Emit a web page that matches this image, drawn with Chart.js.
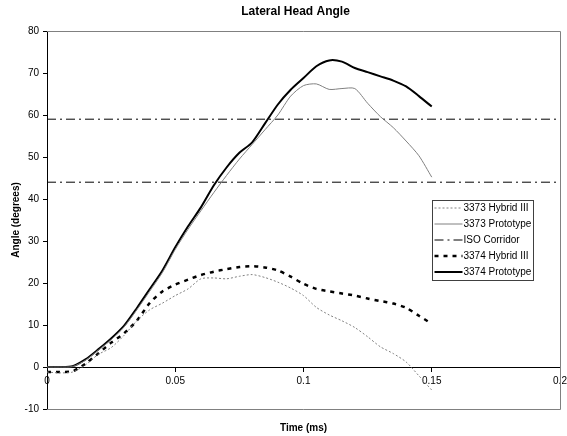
<!DOCTYPE html>
<html>
<head>
<meta charset="utf-8">
<script src="https://cdn.jsdelivr.net/npm/chart.js@4.4.0/dist/chart.umd.min.js"></script>
<style>
  html, body { margin: 0; padding: 0; background: #fff; }
  canvas { display: block; }
</style>
</head>
<body>
<canvas id="chart" width="567" height="436"></canvas>
<script>
// time axis (as labelled on the chart)
const timeMs = [0, 0.005, 0.01, 0.015, 0.02, 0.025, 0.03, 0.035, 0.04, 0.045,
  0.05, 0.055, 0.06, 0.065, 0.07, 0.075, 0.08, 0.085, 0.09, 0.095,
  0.1, 0.105, 0.11, 0.115, 0.12, 0.125, 0.13, 0.135, 0.14, 0.145, 0.15];

const hybrid3373 = [-1.2, -1.4, -1.2, 0.5, 3, 4.6, 7.5, 11, 13.6, 15.2,
  17, 18.6, 21, 21.2, 21, 21.6, 22, 21.3, 20.2, 18.8,
  17, 14.2, 12.4, 11, 9.4, 7.2, 4.8, 3.2, 1.2, -2.1, -5.5];

const proto3373 = [0, 0, 0.1, 1.6, 4, 6.5, 9.5, 13.6, 18, 22.5,
  28, 32.8, 37.2, 41.5, 45.6, 49.5, 53, 56.5, 60, 64.5,
  67, 67.4, 66.1, 66.3, 66.3, 62.8, 59.6, 57, 53.8, 50.3, 45.2];

const hybrid3374 = [-1.2, -1.2, -1, 0.8, 3.2, 5.8, 8, 11, 15.2, 18,
  19.6, 20.8, 21.9, 22.7, 23.3, 23.8, 24, 23.7, 23, 21.5,
  19.8, 18.6, 18, 17.5, 17, 16.3, 15.7, 15.1, 14.1, 12.2, 10.3];

const proto3374 = [0, 0, 0.2, 1.8, 4.2, 6.8, 9.8, 14, 18.5, 23,
  28.5, 33.5, 38, 43.2, 47.5, 51, 53.5, 58, 62.5, 66,
  68.8, 71.6, 73, 72.7, 71.2, 70.2, 69.2, 68.2, 66.8, 64.5, 62];

// ISO corridor limits and the time span they cover
const isoLimits = [59, 44];
const isoSpan = [0, 0.2];

const xTicks = { min: 0, max: 0.2, step: 0.05 };
const yTicks = { min: -10, max: 80, step: 10 };

const FONT = 'Arial, "Liberation Sans", sans-serif';

function toPoints(vals) {
  return timeMs.map(function(t, i) { return { x: t, y: vals[i] }; });
}

function corridorPoints() {
  var pts = [];
  isoLimits.forEach(function(v, i) {
    if (i > 0) pts.push({ x: isoSpan[1], y: null });
    pts.push({ x: isoSpan[0], y: v });
    pts.push({ x: isoSpan[1], y: v });
  });
  return pts;
}

const framePlugin = {
  id: 'frame',
  beforeDatasetsDraw(chart) {
    const ctx = chart.ctx, a = chart.chartArea;
    ctx.save();
    ctx.strokeStyle = '#808080';
    ctx.lineWidth = 1;
    ctx.beginPath();
    ctx.moveTo(a.left, a.top + 0.5);
    ctx.lineTo(a.right + 0.5, a.top + 0.5);
    ctx.lineTo(a.right + 0.5, a.bottom + 0.5);
    ctx.lineTo(a.left, a.bottom + 0.5);
    ctx.stroke();
    ctx.restore();
  },
  afterDraw(chart) {
    const ctx = chart.ctx, a = chart.chartArea;
    ctx.save();
    // title
    ctx.fillStyle = '#000';
    ctx.font = 'bold 12px ' + FONT;
    ctx.textAlign = 'center';
    ctx.textBaseline = 'middle';
    ctx.fillText('Lateral Head Angle', (a.left + a.right) / 2 - 8, 12);

    // legend box inside the plot
    const bx = 432.5, by = 200.5, bw = 101, bh = 80;
    ctx.fillStyle = '#fff';
    ctx.fillRect(bx, by, bw, bh);
    ctx.strokeStyle = '#404040';
    ctx.lineWidth = 1;
    ctx.strokeRect(bx, by, bw, bh);
    ctx.font = '10px ' + FONT;
    ctx.textAlign = 'left';
    chart.data.datasets.forEach(function(ds, i) {
      const y = 208 + i * 16;
      ctx.save();
      ctx.strokeStyle = ds.borderColor;
      ctx.lineWidth = ds.borderWidth;
      ctx.setLineDash(ds.borderDash || []);
      ctx.beginPath();
      ctx.moveTo(bx + 2, y);
      ctx.lineTo(bx + 30, y);
      ctx.stroke();
      ctx.restore();
      ctx.fillStyle = '#000';
      ctx.fillText(ds.label, bx + 31, y);
    });
    ctx.restore();
  }
};

new Chart(document.getElementById('chart'), {
  type: 'line',
  data: {
    datasets: [
      {
        label: '3373 Hybrid III',
        data: toPoints(hybrid3373),
        borderColor: '#808080',
        borderWidth: 1,
        borderDash: [2, 2],
      },
      {
        label: '3373 Prototype',
        data: toPoints(proto3373),
        borderColor: '#808080',
        borderWidth: 1,
      },
      {
        label: 'ISO Corridor',
        data: corridorPoints(),
        borderColor: '#000',
        borderWidth: 1,
        borderDash: [9, 4, 2, 4],
        tension: 0,
      },
      {
        label: '3374 Hybrid III',
        data: toPoints(hybrid3374),
        borderColor: '#000',
        borderWidth: 2.5,
        borderDash: [4, 5],
      },
      {
        label: '3374 Prototype',
        data: toPoints(proto3374),
        borderColor: '#000',
        borderWidth: 2,
      }
    ]
  },
  options: {
    responsive: false,
    animation: false,
    devicePixelRatio: 1,
    layout: { padding: { top: 31, right: 7, left: 0, bottom: 0 } },
    elements: {
      point: { radius: 0, hoverRadius: 0 },
      line: { tension: 0.25, fill: false }
    },
    plugins: {
      legend: { display: false },
      title: { display: false },
      tooltip: { enabled: false }
    },
    scales: {
      x: {
        type: 'linear',
        position: 'bottom',
        min: xTicks.min,
        max: xTicks.max,
        ticks: { display: false },
        grid: { display: false },
        border: { display: false },
        title: {
          display: true,
          text: 'Time (ms)',
          color: '#000',
          font: { family: FONT, size: 10, weight: 'bold' },
          padding: { top: 0, bottom: 2 }
        },
        afterFit: function(s) { s.height = 27; }
      },
      x2: {
        type: 'linear',
        position: { y: 0 },
        min: xTicks.min,
        max: xTicks.max,
        ticks: {
          stepSize: xTicks.step,
          color: '#000',
          padding: 4,
          maxRotation: 0,
          autoSkip: false,
          font: { family: FONT, size: 10 },
          callback: function(v) { return String(Number(v.toFixed(3))); }
        },
        grid: { drawOnChartArea: false, drawTicks: true, tickLength: 4, color: '#000' },
        border: { color: '#000', width: 1 },
        afterFit: function(s) { s.paddingLeft = 0; s.paddingRight = 0; }
      },
      y: {
        type: 'linear',
        position: 'left',
        min: yTicks.min,
        max: yTicks.max,
        ticks: {
          stepSize: yTicks.step,
          color: '#000',
          padding: 4,
          font: { family: FONT, size: 10 }
        },
        grid: { drawOnChartArea: false, drawTicks: true, tickLength: 4, color: '#000' },
        border: { color: '#000', width: 1 },
        title: {
          display: true,
          text: 'Angle (degrees)',
          color: '#000',
          font: { family: FONT, size: 10, weight: 'bold' },
          padding: { top: 10, bottom: 0 }
        },
        afterFit: function(s) { s.width = 47; }
      }
    }
  },
  plugins: [framePlugin]
});
</script>
</body>
</html>
